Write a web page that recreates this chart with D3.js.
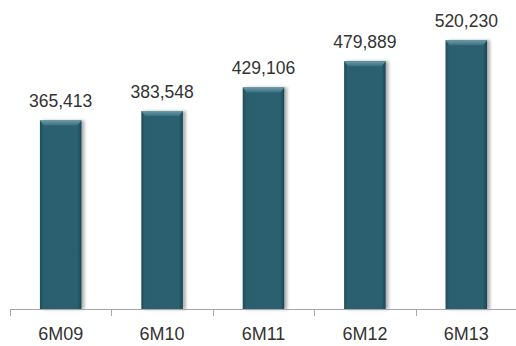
<!DOCTYPE html>
<html>
<head>
<meta charset="utf-8">
<script src="https://cdn.jsdelivr.net/npm/d3@7"></script>
<style>
  body { margin: 0; background: #fff; }
  svg text { font-family: "Liberation Sans", Arial, sans-serif; fill: #333; }
</style>
</head>
<body>
<svg id="chart"></svg>
<script>
// periods and values
var periods = ["6M09", "6M10", "6M11", "6M12", "6M13"];
var values = [365413, 383548, 429106, 479889, 520230];

var width = 516, height = 346;
var baseY = 309.5;

var svg = d3.select("#chart").attr("width", width).attr("height", height);

var x = d3.scaleBand().domain(periods).range([10, 517]).padding(0);
var y = d3.scaleLinear().domain([0, 600000]).range([baseY, -1]);
var barW = x.bandwidth() * 0.41;

var defs = svg.append("defs");

// horizontal shading for the bar body
var body = defs.append("linearGradient").attr("id", "body");
body.append("stop").attr("offset", "0%").attr("stop-color", "#1f4c59");
body.append("stop").attr("offset", "8%").attr("stop-color", "#2a5f6e");
body.append("stop").attr("offset", "90%").attr("stop-color", "#2b6070");
body.append("stop").attr("offset", "100%").attr("stop-color", "#1c4552");

var bevel = defs.append("linearGradient").attr("id", "bevel")
    .attr("x1", 0).attr("y1", 0).attr("x2", 0).attr("y2", 1);
bevel.append("stop").attr("offset", "0%").attr("stop-color", "#6b9ba8");
bevel.append("stop").attr("offset", "100%").attr("stop-color", "#3a7080");

var shadow = defs.append("filter").attr("id", "shadow")
    .attr("x", "-20%").attr("y", "-10%").attr("width", "150%").attr("height", "120%");
shadow.append("feDropShadow").attr("dx", 3).attr("dy", 0).attr("stdDeviation", 1.5)
    .attr("flood-color", "#000").attr("flood-opacity", 0.3);

var bars = svg.selectAll(".bar")
    .data(periods)
    .enter()
    .append("g")
    .attr("class", "bar");

bars.append("rect")
    .attr("x", (d) => x(d) + (x.bandwidth() - barW) / 2)
    .attr("y", (d, i) => y(values[i]))
    .attr("width", barW)
    .attr("height", (d, i) => baseY - y(values[i]))
    .attr("fill", "url(#body)")
    .attr("filter", "url(#shadow)");

// lighter bevel on the bar top
bars.append("path")
    .attr("d", function (d, i) {
        var x0 = x(d) + (x.bandwidth() - barW) / 2, x1 = x0 + barW, t = y(values[i]);
        return "M" + x0 + "," + t + "L" + x1 + "," + t + "L" + (x1 - 4) + "," + (t + 5) +
            "L" + (x0 + 4) + "," + (t + 5) + "Z";
    })
    .attr("fill", "url(#bevel)");

bars.append("text")
    .attr("x", (d) => x(d) + x.bandwidth() / 2)
    .attr("y", (d, i) => y(values[i]) - 13)
    .attr("text-anchor", "middle")
    .style("font-size", "17.5px")
    .text((d, i) => d3.format(",")(values[i]));

// axis
var axis = svg.append("g");
axis.append("line")
    .attr("x1", 10).attr("x2", 516)
    .attr("y1", baseY).attr("y2", baseY)
    .attr("stroke", "#a6a6a6");

axis.selectAll(".tick")
    .data(periods)
    .enter()
    .append("line")
    .attr("x1", (d) => Math.round(x(d)) + 0.5)
    .attr("x2", (d) => Math.round(x(d)) + 0.5)
    .attr("y1", baseY).attr("y2", baseY + 6.5)
    .attr("stroke", "#a6a6a6");

axis.selectAll(".label")
    .data(periods)
    .enter()
    .append("text")
    .attr("x", (d) => x(d) + x.bandwidth() / 2)
    .attr("y", 340)
    .attr("text-anchor", "middle")
    .style("font-size", "18px")
    .text((d) => d);
</script>
</body>
</html>
